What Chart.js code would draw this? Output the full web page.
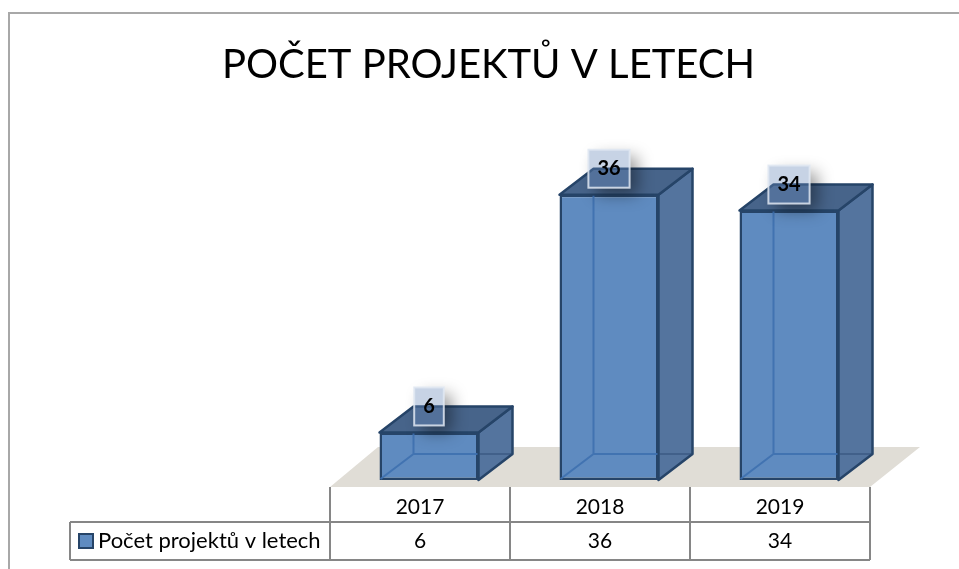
<!DOCTYPE html>
<html>
<head>
<meta charset="utf-8">
<title>Počet projektů v letech</title>
<script src="https://cdn.jsdelivr.net/npm/chart.js@4"></script>
<style>
    html, body { margin: 0; padding: 0; background: #fff; }
    #wrap { position: relative; width: 959px; height: 569px; }
</style>
</head>
<body>
<div id="wrap"><canvas id="projectChart" width="959" height="569"></canvas></div>
<script>
const chartTitle = "POČET PROJEKTŮ V LETECH";
const seriesName = "Počet projektů v letech";
const years = ["2017", "2018", "2019"];
const projectCounts = [6, 36, 34];

// box depth and table layout
const depthX = 34;
const depthY = 26;
const tableShift = 9;
const rowLine1 = 487;
const rowLine2 = 522;
const rowLine3 = 560;
const legendLeft = 70;

const tablePlugin = {
    id: 'tablePlugin',
    beforeDatasetsDraw(chart) {
        const ctx = chart.ctx;
        const area = chart.chartArea;
        const left = area.left - tableShift;
        const right = area.right - tableShift;

        // frame round the whole chart
        ctx.save();
        ctx.strokeStyle = '#a8a8a8';
        ctx.lineWidth = 2;
        ctx.beginPath();
        ctx.moveTo(9, 569);
        ctx.lineTo(9, 13);
        ctx.lineTo(959, 13);
        ctx.stroke();

        // floor
        ctx.fillStyle = '#e0ddd6';
        ctx.beginPath();
        ctx.moveTo(left, rowLine1);
        ctx.lineTo(left + 48, area.bottom - 33);
        ctx.lineTo(right + 50, area.bottom - 33);
        ctx.lineTo(right, rowLine1);
        ctx.closePath();
        ctx.fill();

        // table lines
        ctx.strokeStyle = '#868686';
        ctx.lineWidth = 2;
        ctx.beginPath();
        const colWidth = (right - left) / years.length;
        for (let i = 0; i <= years.length; i++) {
            ctx.moveTo(left + i * colWidth, rowLine1);
            ctx.lineTo(left + i * colWidth, rowLine3);
        }
        ctx.moveTo(legendLeft, rowLine2);
        ctx.lineTo(right, rowLine2);
        ctx.moveTo(legendLeft, rowLine3);
        ctx.lineTo(right, rowLine3);
        ctx.moveTo(legendLeft, rowLine2);
        ctx.lineTo(legendLeft, rowLine3);
        ctx.stroke();

        // values row and series name
        ctx.fillStyle = '#000';
        ctx.font = '21px Lato';
        ctx.textAlign = 'center';
        ctx.textBaseline = 'middle';
        projectCounts.forEach((v, i) => {
            ctx.fillText(String(v), left + (i + 0.5) * colWidth, (rowLine2 + rowLine3) / 2);
        });
        ctx.textAlign = 'left';
        ctx.font = '22px Lato';
        ctx.fillText(seriesName, 98, (rowLine2 + rowLine3) / 2);
        ctx.fillStyle = '#5f8bc0';
        ctx.strokeStyle = '#264468';
        ctx.fillRect(79, 534, 14, 14);
        ctx.strokeRect(79, 534, 14, 14);

        // top and side of every box
        chart.getDatasetMeta(0).data.forEach((bar) => {
            const x0 = bar.x - bar.width / 2;
            const x1 = bar.x + bar.width / 2;
            const top = bar.y;
            const base = bar.base;
            ctx.lineJoin = 'round';
            ctx.lineWidth = 2.5;
            ctx.strokeStyle = '#264468';

            ctx.fillStyle = '#54749e';
            ctx.beginPath();
            ctx.moveTo(x1, top);
            ctx.lineTo(x1 + depthX, top - depthY);
            ctx.lineTo(x1 + depthX, base - depthY);
            ctx.lineTo(x1, base);
            ctx.closePath();
            ctx.fill();
            ctx.stroke();

            ctx.fillStyle = '#47648a';
            ctx.beginPath();
            ctx.moveTo(x0, top);
            ctx.lineTo(x0 + depthX, top - depthY);
            ctx.lineTo(x1 + depthX, top - depthY);
            ctx.lineTo(x1, top);
            ctx.closePath();
            ctx.fill();
            ctx.stroke();
        });
        ctx.restore();
    },
    afterDatasetsDraw(chart) {
        const ctx = chart.ctx;
        ctx.save();
        chart.getDatasetMeta(0).data.forEach((bar, i) => {
            const x0 = bar.x - bar.width / 2;
            const x1 = bar.x + bar.width / 2;
            const top = bar.y;
            const base = bar.base;

            // hidden edges seen through the front
            ctx.strokeStyle = 'rgba(62, 112, 175, 0.9)';
            ctx.lineWidth = 2;
            ctx.beginPath();
            ctx.moveTo(x0 + 1, base - 1);
            ctx.lineTo(x0 + depthX, base - depthY);
            ctx.lineTo(x1 - 1, base - depthY);
            ctx.moveTo(x0 + depthX, base - depthY);
            ctx.lineTo(x0 + depthX, top + 1);
            ctx.stroke();
            ctx.strokeStyle = 'rgba(42, 74, 114, 0.45)';
            ctx.beginPath();
            ctx.moveTo(x1 + 1, base - depthY);
            ctx.lineTo(x1 + depthX, base - depthY);
            ctx.stroke();

            // value label with its shadow, kept outside the label itself
            const text = String(projectCounts[i]);
            ctx.font = 'bold 20px Lato';
            const w = ctx.measureText(text).width + 18;
            const h = 38;
            const bx = bar.x - w / 2;
            const by = top - 45;
            ctx.save();
            ctx.beginPath();
            ctx.rect(0, 0, chart.width, chart.height);
            ctx.rect(bx, by, w, h);
            ctx.clip('evenodd');
            ctx.shadowColor = 'rgba(0, 0, 0, 0.4)';
            ctx.shadowBlur = 16;
            ctx.shadowOffsetX = 2000 + 8;
            ctx.shadowOffsetY = 7;
            ctx.fillStyle = '#000';
            ctx.fillRect(bx - 2000, by, w, h);
            ctx.restore();

            ctx.fillStyle = 'rgba(255, 255, 255, 0.1)';
            ctx.fillRect(bx, by, w, h);
            ctx.fillStyle = 'rgba(70, 110, 170, 0.3)';
            ctx.fillRect(bx, by, w, h);
            ctx.strokeStyle = 'rgba(225, 232, 242, 0.85)';
            ctx.lineWidth = 2;
            ctx.strokeRect(bx, by, w, h);

            ctx.fillStyle = '#000';
            ctx.textAlign = 'center';
            ctx.textBaseline = 'middle';
            ctx.fillText(text, bar.x, by + h / 2);
        });
        ctx.restore();
    }
};

new Chart(document.getElementById('projectChart').getContext('2d'), {
    type: 'bar',
    data: {
        labels: years,
        datasets: [{
            label: seriesName,
            data: projectCounts,
            backgroundColor: '#5f8bc0',
            borderColor: '#264468',
            borderWidth: 2.5,
            borderSkipped: false,
            barPercentage: 0.55,
            categoryPercentage: 1
        }]
    },
    options: {
        responsive: false,
        animation: false,
        layout: { padding: { left: 98, right: 80, top: 0, bottom: 0 } },
        plugins: {
            legend: { display: false },
            tooltip: { enabled: false },
            title: {
                display: true,
                text: chartTitle,
                color: '#000',
                font: { family: 'Lato', size: 40, weight: 'normal' },
                padding: { top: 41, bottom: 74 }
            }
        },
        scales: {
            x: {
                grid: { display: false },
                border: { display: false },
                ticks: {
                    color: '#000',
                    font: { family: 'Lato', size: 21 },
                    labelOffset: -tableShift,
                    padding: 7,
                    maxRotation: 0
                },
                afterFit(scale) { scale.height = 89; }
            },
            y: {
                min: 0,
                max: 40,
                grid: { display: false },
                border: { display: false },
                ticks: { display: false },
                afterFit(scale) { scale.width = 241; }
            }
        }
    },
    plugins: [tablePlugin]
});
</script>
</body>
</html>
